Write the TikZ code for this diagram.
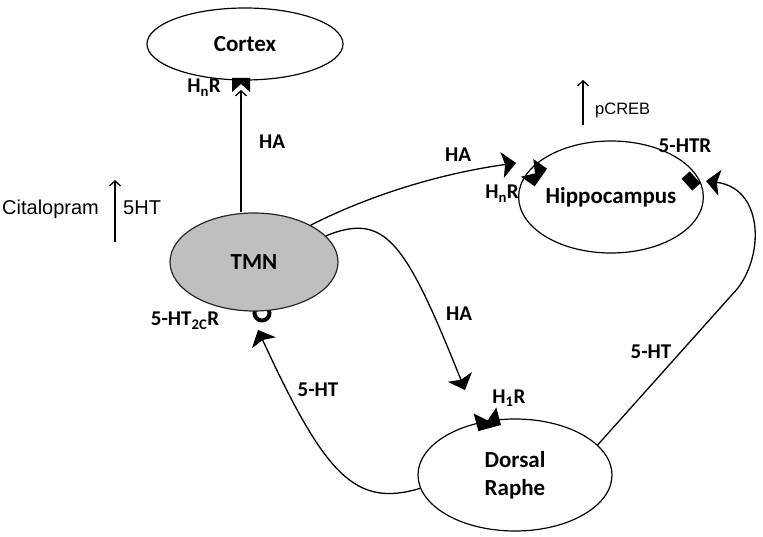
\documentclass[tikz,border=0pt]{standalone}
\usepackage{fontspec}
\setmainfont{Carlito}
\newfontfamily\arialf{Liberation Sans}
\usetikzlibrary{arrows.meta,shapes.geometric}
\begin{document}
\begin{tikzpicture}[x=1pt,y=-1pt,
  region/.style={draw=black,line width=1.2pt,ellipse,inner sep=0pt,align=center,
    font=\bfseries\fontsize{23}{28}\selectfont},
  lab/.style={font=\bfseries\fontsize{21}{22}\selectfont,inner sep=0pt,anchor=base},
  plain/.style={font=\arialf\fontsize{20}{22}\selectfont,inner sep=0pt,anchor=base west},
  conn/.style={line width=1.3pt},
  tipS/.style={-{Stealth[length=14pt,width=26pt,inset=3pt]}},
  tipO/.style={-{Straight Barb[length=5pt,width=11pt,line width=1.3pt]}},
  pics/notch/.style={code={\fill (-9,-6) -- (0,2) -- (9,-6) -- (9,8) -- (-9,8) -- cycle;}},
  pics/sq/.style={code={\fill (-5.5,-8) rectangle (5.5,8);}}
]
\useasboundingbox (0,0) rectangle (763,537);

% cup receptor under TMN (drawn first, top hidden by TMN)
\draw[line width=4pt] (262,313) circle[radius=7.5];

% regions
\node[region,minimum width=196pt,minimum height=72pt] (ctx) at (245,44) {Cortex};
\node[region,fill=black!25,draw=black!85,minimum width=168pt,minimum height=98pt] (tmn) at (254,262) {TMN};
\node[region,minimum width=170pt,minimum height=112pt] (hip) at (611,197) {Hippocampus};
\node[region,minimum width=194pt,minimum height=112pt] (dr) at (515,475) {Dorsal\\Raphe};

% receptors
\pic[rotate=180] at (241,86) {notch};
\pic[rotate=55,scale=1.2] at (533,172) {notch};
\pic[rotate=15,scale=1.3] at (487,418) {notch};
\pic[rotate=42] at (691,181) {sq};

% connector end points
\coordinate (cA) at (241,90);
\coordinate (hA) at (516,163);
\coordinate (hB) at (465,390);
\coordinate (sA) at (258,330);
\coordinate (k1) at (738,288);
\coordinate (sB) at (706,181);

% connectors
\draw[conn,tipO] (tmn.north -| cA) -- (cA);
\draw[conn,tipS] (tmn.33) .. controls (360,200) and (430,175) .. (hA);
\draw[conn,tipS] (tmn.20) .. controls (385,212) and (405,240) .. (hB);
\draw[conn,tipS] (dr.188) .. controls (355,508) and (325,475) .. (sA);
\draw[conn,tipS] (dr.20) -- (k1) .. controls (765,252) and (762,188) .. (sB);

% labels
\node[lab] (l1) at (272,149) {HA};
\node[lab] (l2) at (458,162) {HA};
\node[lab] (l3) at (459,320) {HA};
\node[lab] (l4) at (318,396) {5-HT};
\node[lab] (l5) at (651,358) {5-HT};
\node[lab] (r1) at (204,93) {H\textsubscript{n}R};
\node[lab] (r2) at (502,199) {H\textsubscript{n}R};
\node[lab] (r3) at (509,403) {H\textsubscript{1}R};
\node[lab] (r4) at (685,153) {5-HTR};
\node[lab] (r5) at (185,326) {5-HT\textsubscript{2C}R};

% side notes
\node[plain] (cit) at (2,215) {Citalopram};
\node[plain] (ht) at (123,215) {5HT};
\coordinate (ca0) at (115,242);
\coordinate (ca1) at (115,180);
\draw[conn,tipO] (ca0) -- (ca1);
\node[plain,font=\arialf\fontsize{16.5}{18}\selectfont] (pc) at (595,115) {pCREB};
\coordinate (pa0) at (583,125);
\coordinate (pa1) at (583,80);
\draw[conn,tipO] (pa0) -- (pa1);
\end{tikzpicture}
\end{document}
